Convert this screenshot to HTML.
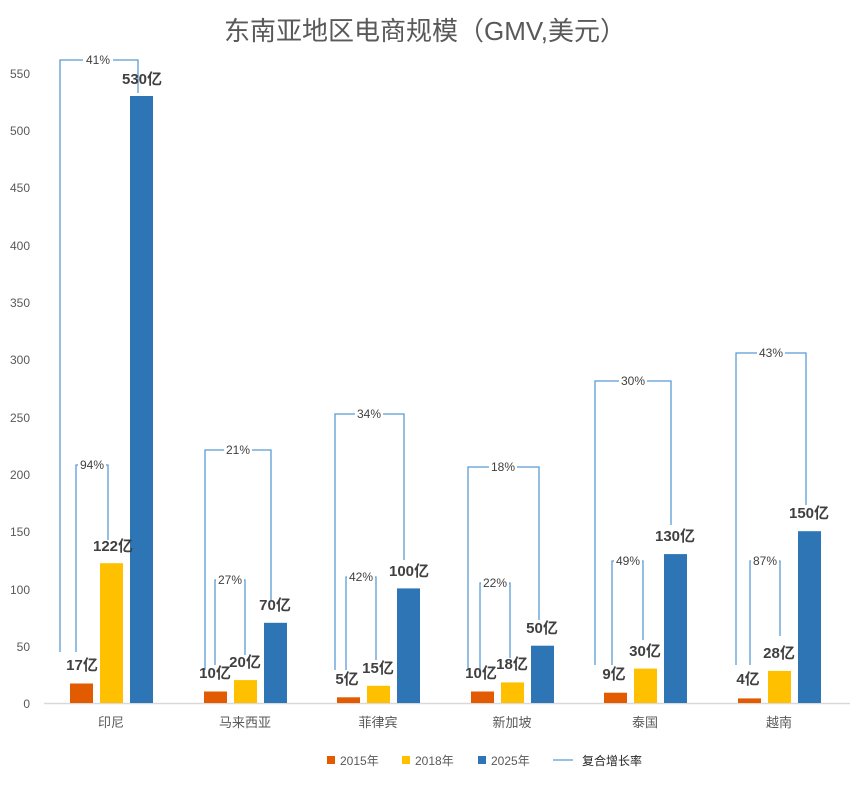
<!DOCTYPE html>
<html><head><meta charset="utf-8"><style>
html,body{margin:0;padding:0;background:#fff}
svg text{font-family:"Liberation Sans","Noto Sans CJK SC",sans-serif}
.t{font-size:12px;fill:#595959}
.v{font-size:15px;font-weight:bold;fill:#404040;text-anchor:middle}
.p{font-size:12px;fill:#404040;text-anchor:middle}
.b{fill:none;stroke:#5b9bd5;stroke-width:1.3}
.c{font-size:13px;fill:#595959;text-anchor:middle}
</style></head><body>
<svg width="864" height="783" viewBox="0 0 864 783" xmlns="http://www.w3.org/2000/svg">
<text x="425" y="40" text-anchor="middle" style="font-size:26px;fill:#595959">东南亚地区电商规模（GMV,美元）</text>
<g class="t" text-anchor="end">
<text x="30" y="708">0</text><text x="30" y="651">50</text><text x="30" y="594">100</text><text x="30" y="536">150</text><text x="30" y="479">200</text><text x="30" y="422">250</text><text x="30" y="364">300</text><text x="30" y="307">350</text><text x="30" y="250">400</text><text x="30" y="192">450</text><text x="30" y="135">500</text><text x="30" y="78">550</text>
</g>
<line x1="44" y1="703.5" x2="850" y2="703.5" stroke="#d9d9d9" stroke-width="1.5"/>
<!-- brackets -->
<g class="b">
<polyline points="60,652 60,60 138,60 138,93"/>
<polyline points="76,652 76,465 108,465 108,540"/>
<polyline points="205,670 205,450 271,450 271,600"/>
<polyline points="215,665 215,580 245,580 245,655"/>
<polyline points="335,670 335,414 404,414 404,560"/>
<polyline points="346,670 346,577 376,577 376,660"/>
<polyline points="468,670 468,467 539,467 539,620"/>
<polyline points="480,670 480,583 510,583 510,658"/>
<polyline points="595,665 595,381 671,381 671,525"/>
<polyline points="612,665 612,561 643,561 643,640"/>
<polyline points="736,665 736,353 806,353 806,505"/>
<polyline points="750,665 750,561 780,561 780,636"/>
</g>
<g fill="#fff">
<rect x="83" y="52" width="30" height="16"/><rect x="78" y="457" width="28" height="16"/>
<rect x="224" y="442" width="28" height="16"/><rect x="216" y="572" width="28" height="16"/>
<rect x="355" y="406" width="28" height="16"/><rect x="347" y="569" width="28" height="16"/>
<rect x="489" y="459" width="28" height="16"/><rect x="481" y="575" width="28" height="16"/>
<rect x="619" y="373" width="28" height="16"/><rect x="614" y="553" width="28" height="16"/>
<rect x="757" y="345" width="28" height="16"/><rect x="751" y="553" width="28" height="16"/>
</g>
<g class="p">
<text x="98" y="64">41%</text><text x="92" y="469">94%</text>
<text x="238" y="454">21%</text><text x="230" y="584">27%</text>
<text x="369" y="418">34%</text><text x="361" y="581">42%</text>
<text x="503" y="471">18%</text><text x="495" y="587">22%</text>
<text x="633" y="385">30%</text><text x="628" y="565">49%</text>
<text x="771" y="357">43%</text><text x="765" y="565">87%</text>
</g>
<!-- bars -->
<g fill="#e35b00">
<rect x="70" y="683.5" width="23" height="19.5"/><rect x="204" y="691.5" width="23" height="11.5"/><rect x="337" y="697.3" width="23" height="5.7"/><rect x="471" y="691.5" width="23" height="11.5"/><rect x="604" y="692.7" width="23" height="10.3"/><rect x="738" y="698.4" width="23" height="4.6"/>
</g>
<g fill="#ffc000">
<rect x="100" y="563.2" width="23" height="139.8"/><rect x="234" y="680.1" width="23" height="22.9"/><rect x="367" y="685.8" width="23" height="17.2"/><rect x="501" y="682.4" width="23" height="20.6"/><rect x="634" y="668.6" width="23" height="34.4"/><rect x="768" y="670.9" width="23" height="32.1"/>
</g>
<g fill="#2e75b6">
<rect x="130" y="96" width="23" height="607"/><rect x="264" y="622.8" width="23" height="80.2"/><rect x="397" y="588.4" width="23" height="114.6"/><rect x="531" y="645.7" width="23" height="57.3"/><rect x="664" y="554.1" width="23" height="148.9"/><rect x="798" y="531.2" width="23" height="171.8"/>
</g>
<g class="v">
<text x="82" y="670">17亿</text><text x="113" y="551">122亿</text><text x="142" y="84">530亿</text>
<text x="215" y="678">10亿</text><text x="245" y="667">20亿</text><text x="275" y="610">70亿</text>
<text x="347" y="684">5亿</text><text x="378" y="673">15亿</text><text x="409" y="576">100亿</text>
<text x="481" y="678">10亿</text><text x="512" y="669">18亿</text><text x="542" y="633">50亿</text>
<text x="614" y="679">9亿</text><text x="645" y="656">30亿</text><text x="675" y="541">130亿</text>
<text x="748" y="684">4亿</text><text x="779" y="658">28亿</text><text x="809" y="518">150亿</text>
</g>
<g class="c">
<text x="111" y="727">印尼</text><text x="245" y="727">马来西亚</text><text x="378" y="727">菲律宾</text><text x="512" y="727">新加坡</text><text x="645" y="727">泰国</text><text x="779" y="727">越南</text>
</g>
<rect x="327" y="756" width="8" height="8" fill="#e35b00"/><text x="340" y="765" class="t" style="font-size:12px">2015年</text>
<rect x="402" y="756" width="8" height="8" fill="#ffc000"/><text x="415" y="765" class="t" style="font-size:12px">2018年</text>
<rect x="478" y="756" width="8" height="8" fill="#2e75b6"/><text x="491" y="765" class="t" style="font-size:12px">2025年</text>
<line x1="553" y1="760" x2="573" y2="760" stroke="#5b9bd5" stroke-width="1.3"/><text x="582" y="765" style="font-size:12px;fill:#262626">复合增长率</text>
</svg>
</body></html>
